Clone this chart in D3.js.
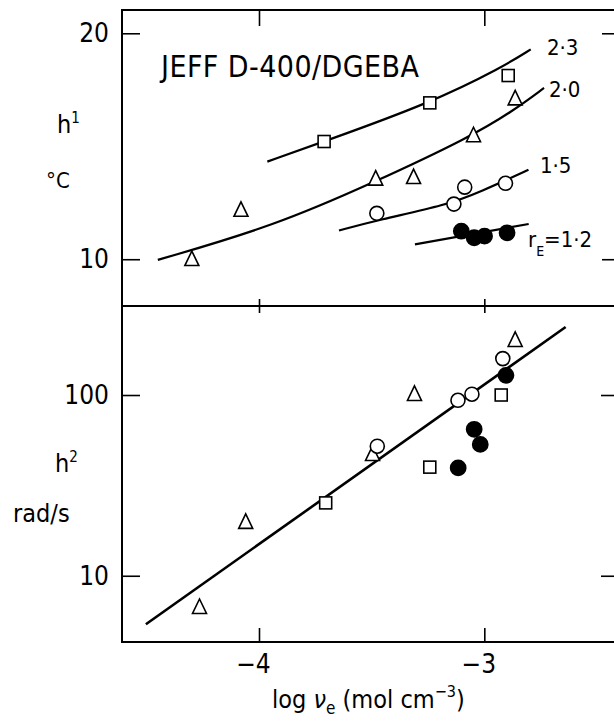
<!DOCTYPE html>
<html>
<head>
<meta charset="utf-8">
<script src="https://cdn.jsdelivr.net/npm/d3@7"></script>
<style>
  html, body { margin: 0; padding: 0; background: #fff; }
  svg { display: block; }
</style>
</head>
<body>
<svg id="chart" width="614" height="721"></svg>
<script>
// ---- data ----------------------------------------------------------------
const xTicks = [-4, -3];
const topTicks = [10, 20];
const bottomTicks = [10, 100];

// upper panel: h1 (°C) vs log ν_e
const sqTopX = [-3.711, -3.242, -2.894];
const sqTopY = [15.21, 16.92, 18.13];
const triTopX = [-4.298, -4.080, -3.482, -3.314, -3.048, -2.863];
const triTopY = [10.03, 12.21, 13.59, 13.66, 15.51, 17.14];
const opTopX = [-3.477, -3.135, -3.087, -2.906];
const opTopY = [12.03, 12.44, 13.19, 13.36];
const fiTopX = [-3.102, -3.045, -2.999, -2.899];
const fiTopY = [11.24, 10.95, 11.02, 11.17];

// drawn guide curves, one per stoichiometric ratio
const curve23X = [-3.963, -3.714, -3.243, -2.916, -2.794];
const curve23Y = [14.32, 15.20, 16.90, 18.52, 19.29];
const curve20X = [-4.449, -3.933, -3.485, -3.063, -2.873, -2.735];
const curve20Y = [9.97, 11.47, 13.42, 15.41, 16.56, 17.58];
const curve15X = [-3.645, -3.472, -3.166, -3.019, -2.804];
const curve15Y = [11.27, 11.74, 12.40, 12.98, 13.96];
const curve12X = [-3.308, -2.803];
const curve12Y = [10.66, 11.56];
const curveLabels = ["2·3", "2·0", "1·5", "=1·2"];

// lower panel: h2 (rad/s) vs log ν_e
const sqBotX = [-3.704, -3.242, -2.925];
const sqBotY = [25.3, 39.9, 100];
const triBotX = [-4.264, -4.059, -3.496, -3.310, -2.863];
const triBotY = [6.76, 20.0, 47.5, 102, 203];
const opBotX = [-3.475, -3.117, -3.055, -2.918];
const opBotY = [52.1, 93.5, 101, 159];
const fiBotX = [-3.116, -3.045, -3.018, -2.904];
const fiBotY = [39.5, 64.6, 53.3, 128.5];
const fitX = [-4.502, -2.639];
const fitY = [5.39, 238];

// ---- layout --------------------------------------------------------------
const FONT = "'DejaVu Sans Condensed', 'Liberation Sans Narrow', sans-serif";
const L = 122, R = 615, T = 10, MID = 306, B = 642;

const svg = d3.select("#chart");
svg.append("rect").attr("width", 614).attr("height", 721).attr("fill", "#fff");

const x = d3.scaleLinear().domain([-4.608, -2.420]).range([L, R]);
const yTop = d3.scaleLinear().domain([7.93, 21.03]).range([MID, T]);
const yBot = d3.scaleLog().domain([4.30, 310.8]).range([B, MID]);

const zip = (xs, ys) => xs.map((v, i) => [v, ys[i]]);

// ---- axes ----------------------------------------------------------------
function styleAxis(g, size) {
  g.select(".domain").remove();
  g.selectAll("line").attr("stroke", "#000").attr("stroke-width", 1.6);
  g.selectAll("text").attr("font-family", FONT).attr("font-size", size || 26).attr("fill", "#000");
}

svg.append("g").attr("transform", `translate(${L},0)`)
  .call(d3.axisLeft(yTop).tickValues(topTicks).tickSize(-18).tickPadding(13).tickFormat(d3.format("d")))
  .call(g => styleAxis(g));
svg.append("g").attr("transform", `translate(${L},0)`)
  .call(d3.axisLeft(yBot).tickValues(bottomTicks).tickSize(-18).tickPadding(13).tickFormat(d3.format("d")))
  .call(g => styleAxis(g));
svg.append("g").attr("transform", `translate(${R},0)`)
  .call(d3.axisRight(yTop).tickValues(topTicks).tickSize(-13).tickFormat(""))
  .call(g => styleAxis(g));
svg.append("g").attr("transform", `translate(${R},0)`)
  .call(d3.axisRight(yBot).tickValues(bottomTicks).tickSize(-14).tickFormat(""))
  .call(g => styleAxis(g));
svg.append("g").attr("transform", `translate(0,${T})`)
  .call(d3.axisTop(x).tickValues(xTicks).tickSize(-16).tickFormat(""))
  .call(g => styleAxis(g));
svg.append("g").attr("transform", `translate(0,${MID})`)
  .call(d3.axisTop(x).tickValues(xTicks).tickSize(7).tickFormat(""))
  .call(g => styleAxis(g));
svg.append("g").attr("transform", `translate(0,${MID})`)
  .call(d3.axisBottom(x).tickValues(xTicks).tickSize(7).tickFormat(""))
  .call(g => styleAxis(g));
svg.append("g").attr("transform", `translate(0,${B})`)
  .call(d3.axisBottom(x).tickValues(xTicks).tickSize(-14).tickPadding(13).tickFormat(d3.format("d")))
  .call(g => { styleAxis(g); g.selectAll("text").attr("dx", -6); });

// frame
const frame = svg.append("g").attr("stroke", "#000").attr("stroke-width", 2).attr("fill", "none");
frame.append("line").attr("x1", L).attr("x2", L).attr("y1", T).attr("y2", B);
[T, MID, B].forEach(yy => frame.append("line").attr("x1", L - 1).attr("x2", R).attr("y1", yy).attr("y2", yy));

// ---- curves --------------------------------------------------------------
const lineTop = d3.line().x(d => x(d[0])).y(d => yTop(d[1])).curve(d3.curveBasis);
const lineBot = d3.line().x(d => x(d[0])).y(d => yBot(d[1]));

const curves = svg.append("g").attr("fill", "none").attr("stroke", "#000").attr("stroke-width", 2.2);
[[curve23X, curve23Y], [curve20X, curve20Y], [curve15X, curve15Y], [curve12X, curve12Y]]
  .forEach(([cx, cy]) => curves.append("path").attr("d", lineTop(zip(cx, cy))));
curves.append("path").attr("d", lineBot(zip(fitX, fitY))).attr("stroke-width", 2.6);

// ---- markers -------------------------------------------------------------
function squares(g, pts, ys) {
  g.selectAll(null).data(pts).join("rect")
    .attr("x", d => x(d[0]) - 6).attr("y", d => ys(d[1]) - 6)
    .attr("width", 12).attr("height", 12)
    .attr("fill", "#fff").attr("stroke", "#000").attr("stroke-width", 1.6);
}
function triangles(g, pts, ys) {
  g.selectAll(null).data(pts).join("path")
    .attr("d", d => {
      const cx = x(d[0]), cy = ys(d[1]);
      return `M${cx},${cy - 7.5}L${cx + 7},${cy + 7}L${cx - 7},${cy + 7}Z`;
    })
    .attr("fill", "#fff").attr("stroke", "#000").attr("stroke-width", 1.6).attr("stroke-linejoin", "miter");
}
function circles(g, pts, ys, filled) {
  g.selectAll(null).data(pts).join("circle")
    .attr("cx", d => x(d[0])).attr("cy", d => ys(d[1]))
    .attr("r", filled ? 7.6 : 7)
    .attr("fill", filled ? "#000" : "#fff").attr("stroke", "#000").attr("stroke-width", 1.6);
}

const mk = svg.append("g");
squares(mk, zip(sqTopX, sqTopY), yTop);
triangles(mk, zip(triTopX, triTopY), yTop);
circles(mk, zip(opTopX, opTopY), yTop, false);
circles(mk, zip(fiTopX, fiTopY), yTop, true);
squares(mk, zip(sqBotX, sqBotY), yBot);
triangles(mk, zip(triBotX, triBotY), yBot);
circles(mk, zip(opBotX, opBotY), yBot, false);
circles(mk, zip(fiBotX, fiBotY), yBot, true);

// ---- text ----------------------------------------------------------------
const txt = (xx, yy, s, size, anchor) => svg.append("text")
  .attr("x", xx).attr("y", yy).attr("font-family", FONT).attr("font-size", size)
  .attr("text-anchor", anchor || "start").attr("fill", "#000").text(s);

txt(161, 77, "JEFF D-400/DGEBA", 30).attr("textLength", 258).attr("lengthAdjust", "spacing");

txt(547, 55, curveLabels[0], 22);
txt(549, 97, curveLabels[1], 22);
txt(540, 173, curveLabels[2], 22);

// r_E = 1·2 as one text run with a subscript
const rE = svg.append("text").attr("x", 528).attr("y", 247)
  .attr("font-family", FONT).attr("font-size", 22).attr("fill", "#000");
rE.append("tspan").text("r");
rE.append("tspan").attr("font-size", 14).attr("dy", 9).text("E");
rE.append("tspan").attr("dy", -9).text(curveLabels[3]);

// axis unit labels
const h1 = svg.append("text").attr("x", 57).attr("y", 133)
  .attr("font-family", FONT).attr("font-size", 25).attr("fill", "#000");
h1.append("tspan").text("h");
h1.append("tspan").attr("font-size", 15).attr("dy", -10).text("1");
txt(46, 188, "°C", 22);
const h2 = svg.append("text").attr("x", 55).attr("y", 472)
  .attr("font-family", FONT).attr("font-size", 25).attr("fill", "#000");
h2.append("tspan").text("h");
h2.append("tspan").attr("font-size", 15).attr("dy", -10).text("2");
txt(13, 522, "rad/s", 25);

// x-axis title
const xt = svg.append("text").attr("x", 272).attr("y", 708)
  .attr("font-family", FONT).attr("font-size", 25).attr("fill", "#000");
xt.append("tspan").text("log ");
xt.append("tspan").attr("font-style", "italic").text("ν");
xt.append("tspan").attr("font-size", 17).attr("dy", 6).text("e");
xt.append("tspan").attr("dy", -6).text("  (mol cm");
xt.append("tspan").attr("font-size", 16).attr("dy", -11).text("−3");
xt.append("tspan").attr("dy", 11).text(")");
</script>
</body>
</html>
